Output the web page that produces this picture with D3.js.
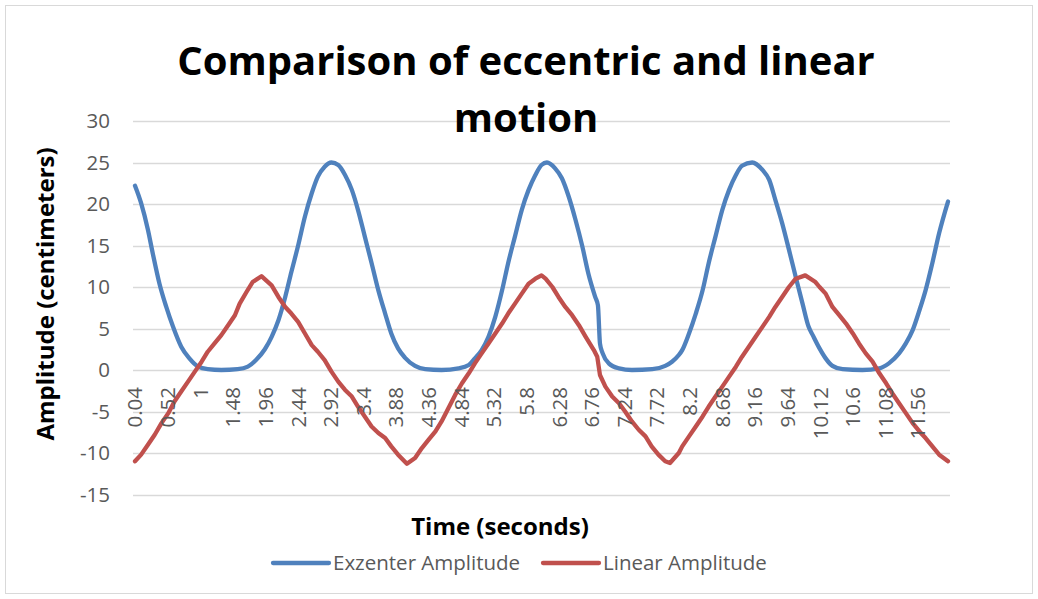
<!DOCTYPE html>
<html>
<head>
<meta charset="utf-8">
<script src="https://cdn.jsdelivr.net/npm/d3@7"></script>
<style>
  body { margin: 0; background: #fff; }
  text { font-family: "Open Sans", "Noto Sans", sans-serif; }
</style>
</head>
<body>
<script>
/* data */
var exzenterTime = [0.04,0.13,0.23,0.30,0.40,0.50,0.60,0.72,0.84,0.97,1.11,1.31,1.55,1.70,1.82,1.95,2.05,2.15,2.25,2.34,2.44,2.54,2.64,2.73,2.83,2.93,3.03,3.13,3.23,3.32,3.42,3.52,3.62,3.72,3.81,3.91,4.01,4.16,4.31,4.55,4.80,4.95,5.04,5.14,5.24,5.34,5.44,5.53,5.63,5.73,5.83,5.93,6.02,6.10,6.22,6.32,6.42,6.52,6.62,6.71,6.81,6.85,6.88,6.92,7.01,7.16,7.35,7.65,7.84,7.94,8.04,8.09,8.19,8.29,8.39,8.48,8.58,8.68,8.78,8.88,8.97,9.12,9.27,9.37,9.46,9.56,9.66,9.76,9.86,9.95,10.01,10.11,10.20,10.30,10.45,10.74,10.99,11.13,11.28,11.38,11.48,11.58,11.67,11.77,11.87,12.00];
var exzenterAmp = [22.2,20.1,16.9,14.1,10.4,7.6,5.2,2.8,1.4,0.4,0.1,0.0,0.1,0.4,1.2,2.5,4.0,6.0,8.8,11.8,15.0,18.5,21.3,23.3,24.5,25.0,24.7,23.5,21.7,19.3,16.1,12.9,9.6,6.8,4.4,2.6,1.5,0.5,0.1,0.0,0.2,0.6,1.4,2.4,4.0,6.4,9.6,12.9,16.1,19.3,21.7,23.5,24.7,25.0,24.3,23.1,20.9,18.1,14.9,11.6,8.8,7.8,3.2,2.0,0.8,0.2,0.0,0.1,0.5,1.0,1.8,2.4,4.4,6.8,9.6,12.9,16.1,19.3,21.7,23.5,24.6,25.0,24.1,22.9,20.5,17.7,14.5,11.2,8.0,5.2,4.2,2.6,1.4,0.5,0.1,0.0,0.2,0.8,2.0,3.2,4.8,7.2,9.6,12.9,16.5,20.3];

var linearTime = [0.04,0.13,0.23,0.33,0.43,0.53,0.62,0.72,0.82,0.92,1.02,1.11,1.21,1.31,1.41,1.51,1.58,1.68,1.77,1.90,2.05,2.15,2.25,2.34,2.44,2.54,2.64,2.73,2.83,2.93,3.03,3.13,3.23,3.32,3.42,3.52,3.62,3.72,3.81,3.91,4.04,4.16,4.26,4.36,4.46,4.55,4.65,4.75,4.85,4.95,5.04,5.14,5.24,5.34,5.44,5.53,5.63,5.73,5.83,5.93,6.02,6.08,6.18,6.27,6.37,6.47,6.57,6.67,6.79,6.84,6.88,6.96,7.06,7.16,7.25,7.35,7.45,7.55,7.64,7.74,7.84,7.91,8.04,8.09,8.19,8.29,8.39,8.48,8.58,8.68,8.78,8.88,8.97,9.07,9.17,9.27,9.37,9.46,9.56,9.66,9.76,9.90,10.05,10.11,10.20,10.30,10.40,10.50,10.60,10.69,10.79,10.89,10.99,11.09,11.18,11.28,11.38,11.48,11.58,11.67,11.77,11.87,12.00];
var linearAmp = [-11.0,-10.2,-9.0,-7.8,-6.4,-5.2,-3.8,-2.6,-1.4,-0.2,1.0,2.2,3.2,4.2,5.4,6.6,8.0,9.4,10.6,11.3,10.2,8.8,7.6,6.8,5.8,4.4,3.0,2.2,1.2,-0.2,-1.4,-2.4,-3.2,-4.4,-5.6,-6.8,-7.6,-8.2,-9.2,-10.2,-11.3,-10.6,-9.4,-8.4,-7.4,-6.2,-4.6,-3.0,-1.6,-0.4,0.8,2.0,3.2,4.4,5.6,6.8,8.0,9.2,10.4,11.0,11.4,11.0,10.0,8.8,7.6,6.6,5.4,4.0,2.4,1.6,-0.6,-2.0,-3.2,-4.0,-5.0,-6.2,-7.2,-8.0,-9.2,-10.2,-11.0,-11.2,-10.0,-9.2,-8.0,-6.8,-5.6,-4.4,-3.2,-2.0,-0.8,0.4,1.6,2.8,4.0,5.2,6.4,7.6,8.8,10.0,11.0,11.4,10.6,10.0,9.2,7.6,6.6,5.6,4.4,3.2,2.0,1.0,-0.4,-1.6,-2.8,-4.0,-5.2,-6.4,-7.4,-8.2,-9.2,-10.2,-11.0];

var xTickLabels = ["0.04","0.52","1","1.48","1.96","2.44","2.92","3.4","3.88","4.36","4.84","5.32","5.8","6.28","6.76","7.24","7.72","8.2","8.68","9.16","9.64","10.12","10.6","11.08","11.56"];
var yTicks = [-15,-10,-5,0,5,10,15,20,25,30];
var seriesNames = ["Exzenter Amplitude", "Linear Amplitude"];
var seriesColors = ["#4f81bd", "#c0504d"];

var W = 1038, H = 599;
var svg = d3.select('body').append('svg')
  .attr('width', W)
  .attr('height', H);

// chart border
svg.append('rect')
  .attr('x', 5.5).attr('y', 5.5)
  .attr('width', W - 11).attr('height', H - 11)
  .attr('fill', '#fff')
  .attr('stroke', '#d9d9d9');

var x = d3.scaleLinear().domain([0.04, 12.0]).range([135, 948]);
var y = d3.scaleLinear().domain([-15, 30]).range([494.5, 121]);

// gridlines
svg.append('g').selectAll('line')
  .data(yTicks).enter().append('line')
  .attr('x1', 133).attr('x2', 950)
  .attr('y1', function(d) { return Math.round(y(d)) + 0.5; })
  .attr('y2', function(d) { return Math.round(y(d)) + 0.5; })
  .attr('stroke', '#d9d9d9')
  .attr('stroke-width', 1.3);

// y tick labels
svg.append('g').selectAll('text')
  .data(yTicks).enter().append('text')
  .attr('x', 110)
  .attr('y', function(d) { return y(d); })
  .attr('dy', '0.36em')
  .attr('text-anchor', 'end')
  .attr('font-size', 20.5)
  .attr('fill', '#595959')
  .text(function(d) { return d; });

// series
var series = [
  { name: seriesNames[0], color: seriesColors[0], t: exzenterTime, v: exzenterAmp, curve: d3.curveMonotoneX },
  { name: seriesNames[1], color: seriesColors[1], t: linearTime, v: linearAmp, curve: d3.curveLinear }
];
series.forEach(function(s) {
  var pts = s.t.map(function(t, i) { return [t, s.v[i]]; });
  var line = d3.line()
    .x(function(d) { return x(d[0]); })
    .y(function(d) { return y(d[1]); })
    .curve(s.curve);
  svg.append('path')
    .attr('d', line(pts))
    .attr('fill', 'none')
    .attr('stroke', s.color)
    .attr('stroke-width', 4.3)
    .attr('stroke-linejoin', 'round')
    .attr('stroke-linecap', 'round');
});

// x tick labels (rotated)
svg.append('g').selectAll('text')
  .data(xTickLabels).enter().append('text')
  .attr('transform', function(d) { return 'translate(' + x(+d) + ',387) rotate(-90)'; })
  .attr('dy', '0.36em')
  .attr('text-anchor', 'end')
  .attr('font-size', 20.5)
  .attr('fill', '#595959')
  .text(function(d) { return d; });

// title
var title = svg.append('text')
  .attr('x', 526)
  .attr('text-anchor', 'middle')
  .attr('font-size', 40)
  .attr('font-weight', 'bold')
  .attr('fill', '#000');
title.append('tspan').attr('x', 526).attr('y', 75).text('Comparison of eccentric and linear');
title.append('tspan').attr('x', 526).attr('y', 132).text('motion');

// axis titles
svg.append('text')
  .attr('transform', 'translate(46,294) rotate(-90)')
  .attr('dy', '0.35em')
  .attr('text-anchor', 'middle')
  .attr('font-size', 24)
  .attr('font-weight', 'bold')
  .text('Amplitude (centimeters)');

svg.append('text')
  .attr('x', 500).attr('y', 535)
  .attr('text-anchor', 'middle')
  .attr('font-size', 24)
  .attr('font-weight', 'bold')
  .text('Time (seconds)');

// legend
var legendX = [273, 543];
series.forEach(function(s, i) {
  svg.append('line')
    .attr('x1', legendX[i]).attr('x2', legendX[i] + 56)
    .attr('y1', 563).attr('y2', 563)
    .attr('stroke', s.color)
    .attr('stroke-width', 4.3)
    .attr('stroke-linecap', 'round');
  svg.append('text')
    .attr('x', legendX[i] + 60).attr('y', 563)
    .attr('dy', '0.36em')
    .attr('font-size', 20.5)
    .attr('fill', '#595959')
    .text(s.name);
});
</script>
</body>
</html>
